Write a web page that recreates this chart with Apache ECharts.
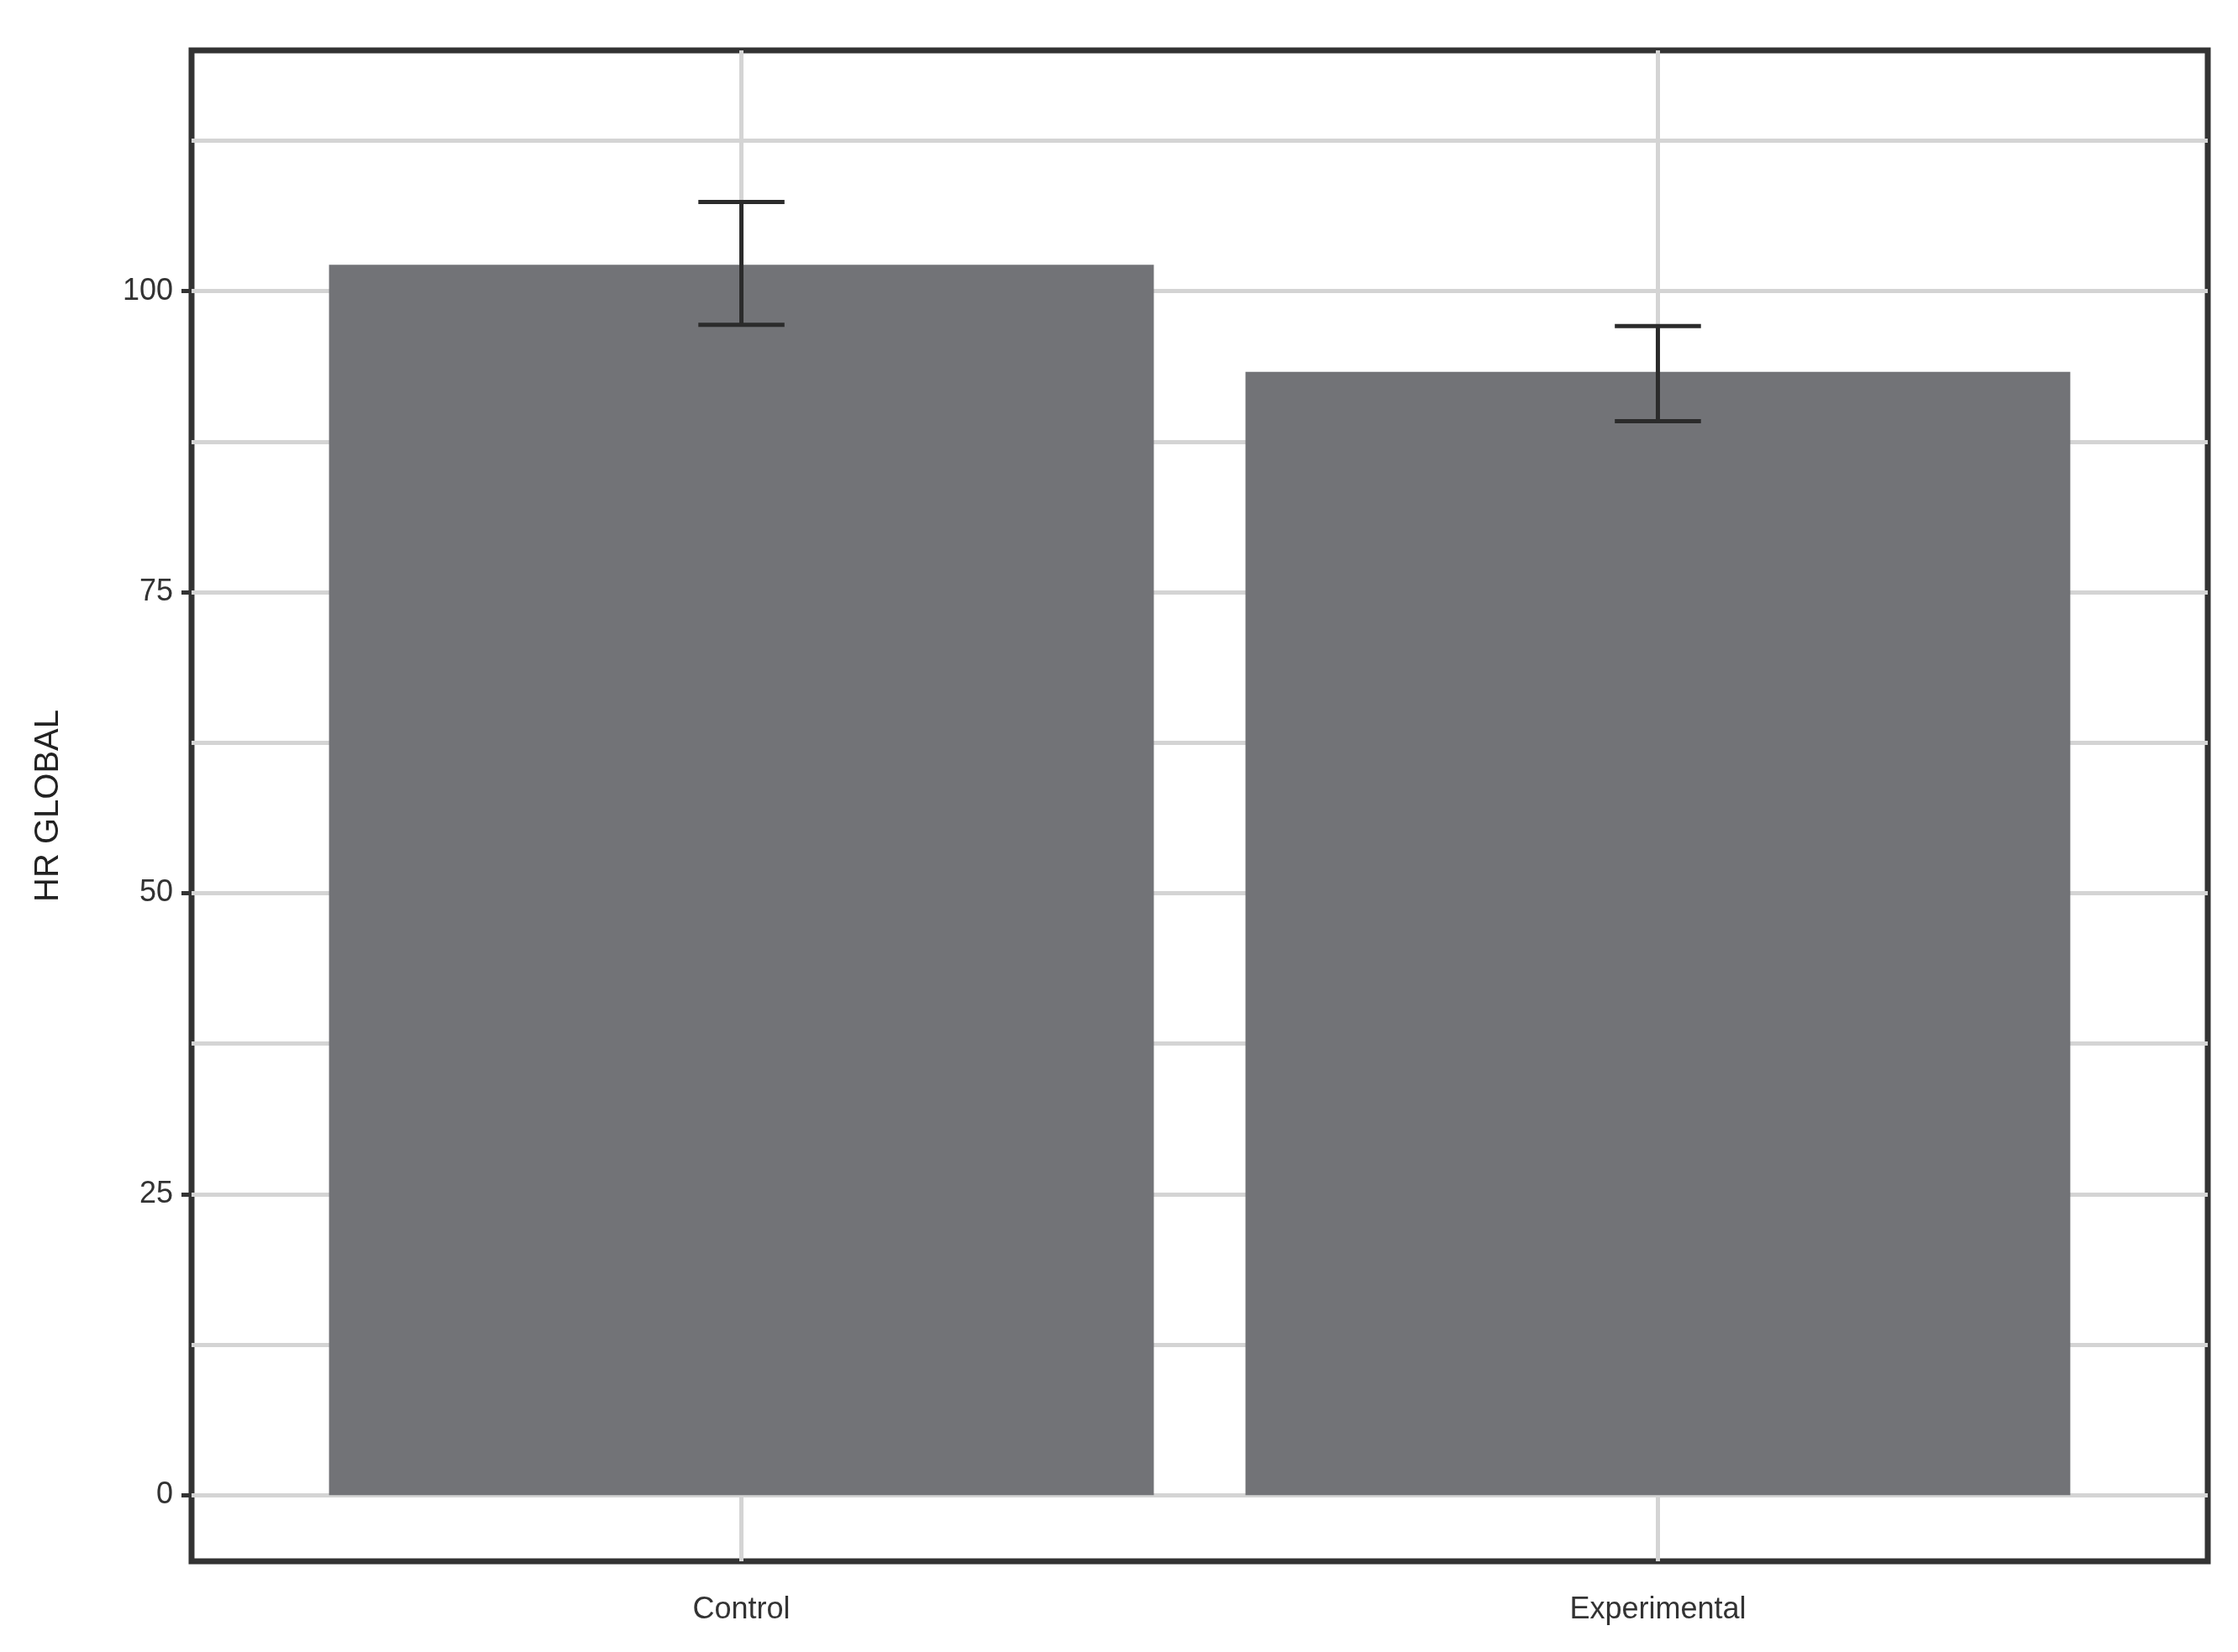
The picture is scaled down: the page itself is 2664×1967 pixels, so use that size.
<!DOCTYPE html>
<html><head><meta charset="utf-8">
<script src="https://cdn.jsdelivr.net/npm/echarts@6/dist/echarts.min.js"></script>
<style>html,body{margin:0;background:#fff}#c{width:2664px;height:1967px}</style>
</head><body><div id="c"></div>
<script>
const categories = ['Control', 'Experimental'];
const means = [102.2, 93.3];
const lower = [97.2, 89.2];
const upper = [107.4, 97.1];
const yTicks = [0, 25, 50, 75, 100];
const gridVals = [0, 12.5, 25, 37.5, 50, 62.5, 75, 87.5, 100, 112.5];

const chart = echarts.init(document.getElementById('c'));
const barData = categories.map((c, i) => [i + 1, means[i], lower[i], upper[i]]);
const gridStyle = {color: '#d4d4d4', width: 5, type: 'solid'};
chart.setOption({
  animation: false,
  grid: {left: 228, right: 36, top: 60, bottom: 108, show: true, borderColor: '#333333', borderWidth: 7, backgroundColor: '#fff'},
  xAxis: {
    type: 'value', min: 0.4, max: 2.6,
    splitLine: {show: false}, axisLine: {show: false},
    axisTick: {show: true, customValues: [1, 2], length: 12, lineStyle: {color: '#333', width: 5}},
    axisLabel: {customValues: [1, 2], formatter: v => categories[Math.round(v) - 1] || '', margin: 40,
      fontFamily: 'Liberation Sans, Arial', fontSize: 36, color: '#333'}
  },
  yAxis: {
    type: 'value', min: -5.5, max: 120,
    name: 'HR GLOBAL', nameLocation: 'middle', nameGap: 150,
    nameTextStyle: {fontFamily: 'Liberation Sans, Arial', fontSize: 40, color: '#222'},
    splitLine: {show: false}, axisLine: {show: false},
    axisTick: {show: true, customValues: yTicks, length: 12, lineStyle: {color: '#333', width: 5}},
    axisLabel: {customValues: yTicks, margin: 22, fontFamily: 'Liberation Sans, Arial', fontSize: 36, color: '#333'}
  },
  series: [
    {
      type: 'line', data: [], z: 1, silent: true,
      markLine: {silent: true, symbol: 'none', label: {show: false}, lineStyle: gridStyle, animation: false,
        data: gridVals.map(v => ({yAxis: v})).concat([{xAxis: 1}, {xAxis: 2}])}
    },
    {
      type: 'custom', z: 5, data: barData,
      encode: {x: 0, y: [1, 2, 3]},
      renderItem: (params, api) => {
        const x = api.value(0);
        const p0 = api.coord([x - 0.45, api.value(1)]);
        const p1 = api.coord([x + 0.45, 0]);
        const lo = api.coord([x, api.value(2)]);
        const hi = api.coord([x, api.value(3)]);
        const cl = api.coord([x - 0.047, 0])[0];
        const cr = api.coord([x + 0.047, 0])[0];
        const ls = {stroke: '#2b2b2b', lineWidth: 5};
        return {type: 'group', children: [
          {type: 'rect', shape: {x: p0[0], y: p0[1], width: p1[0] - p0[0], height: p1[1] - p0[1]}, style: {fill: '#727377'}},
          {type: 'line', shape: {x1: lo[0], y1: lo[1], x2: hi[0], y2: hi[1]}, style: ls},
          {type: 'line', shape: {x1: cl, y1: lo[1], x2: cr, y2: lo[1]}, style: ls},
          {type: 'line', shape: {x1: cl, y1: hi[1], x2: cr, y2: hi[1]}, style: ls}
        ]};
      }
    }
  ]
});
</script></body></html>
